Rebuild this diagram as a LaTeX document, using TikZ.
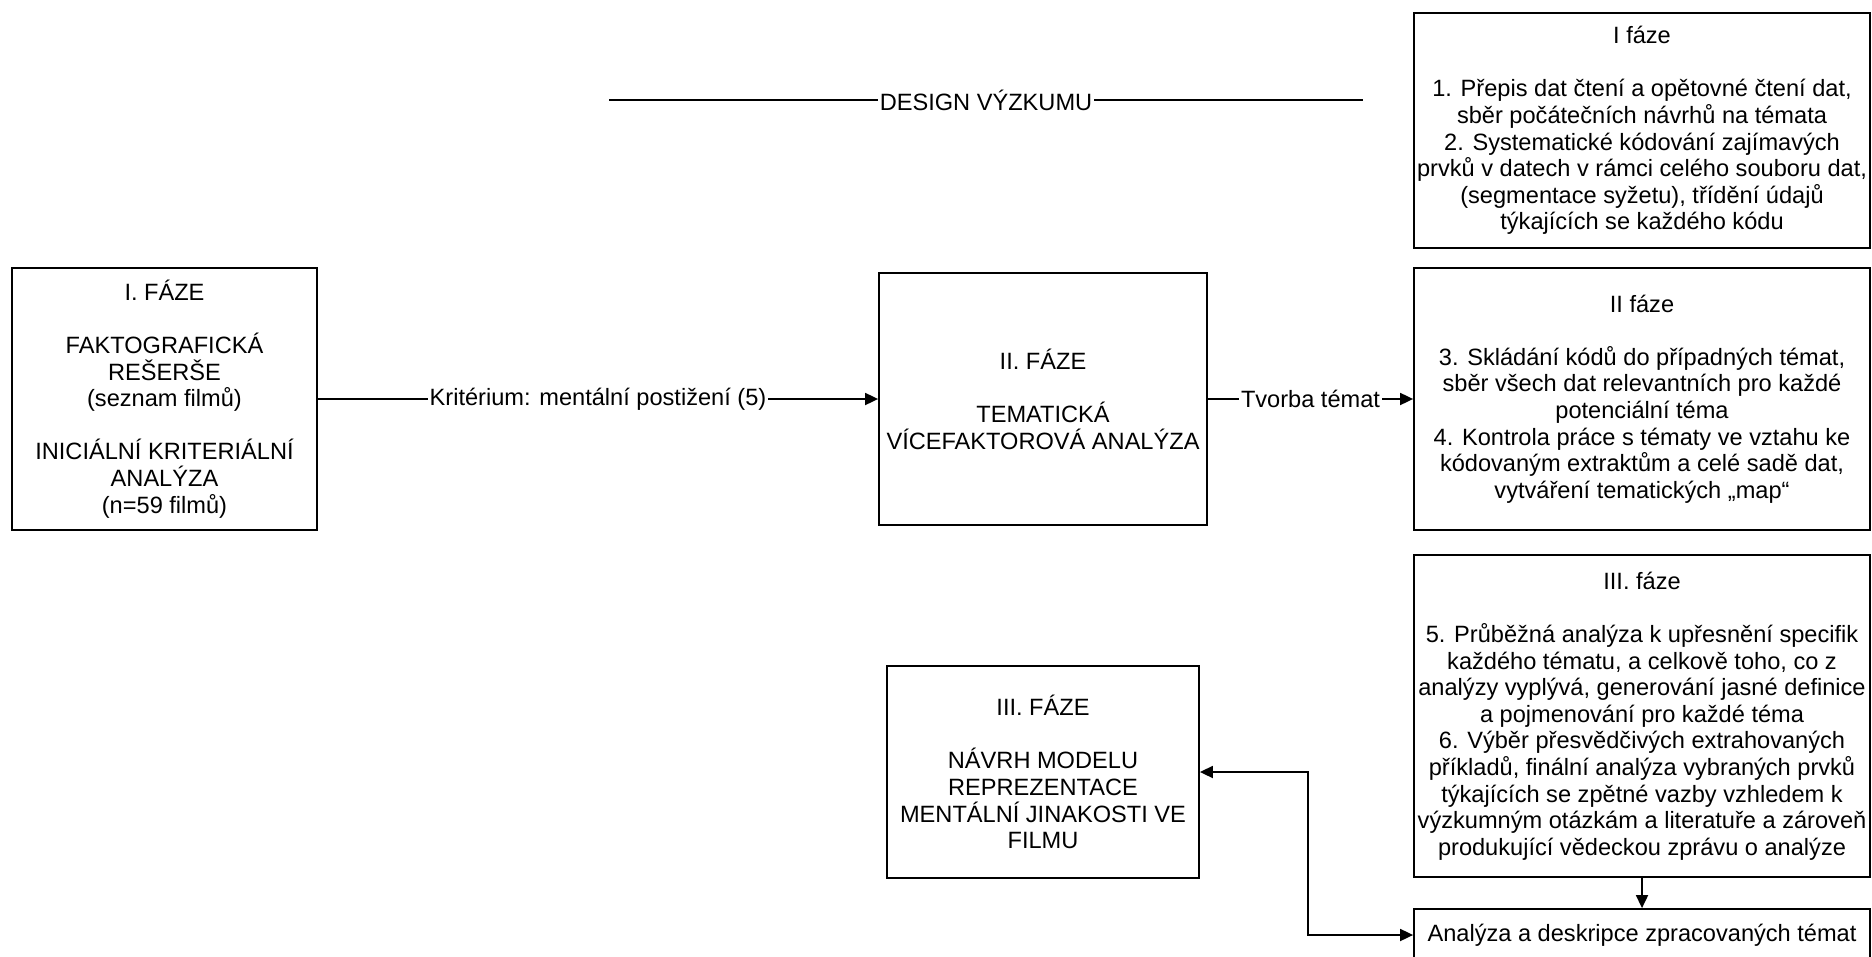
\documentclass[tikz,border=0pt]{standalone}
\usepackage{fontspec}
\setmainfont{Liberation Sans}
\usetikzlibrary{arrows.meta}

\begin{document}
\begin{tikzpicture}[x=0.5pt, y=-0.5pt,
        phasebox/.style={draw, line width=0.9pt, inner sep=0pt, align=center, font=\fontsize{11.8}{13.3}\selectfont},
        link/.style={line width=0.9pt, -{Triangle[length=6.5pt, width=6pt]}},
        twolink/.style={line width=0.9pt, {Triangle[length=6.5pt, width=6pt]}-{Triangle[length=6.5pt, width=6pt]}},
        linklabel/.style={fill=white, inner sep=1pt, font=\fontsize{11.8}{13.3}\selectfont}]
        \useasboundingbox (0,0) rectangle (1872,957);

        \node[phasebox, minimum width=152.5pt, minimum height=131pt] (faze1) at (164.5,399)
            {I. FÁZE\\[13.3pt] FAKTOGRAFICKÁ\\ REŠERŠE\\ (seznam filmů)\\[13.3pt] INICIÁLNÍ KRITERIÁLNÍ\\ ANALÝZA\\ (n=59 filmů)};
        \node[phasebox, minimum width=164pt, minimum height=126pt] (faze2) at (1043,399)
            {II. FÁZE\\[13.3pt] TEMATICKÁ\\ VÍCEFAKTOROVÁ ANALÝZA};
        \node[phasebox, minimum width=156pt, minimum height=106pt] (faze3) at (1043,772)
            {III. FÁZE\\[13.3pt] NÁVRH MODELU\\ REPREZENTACE\\ MENTÁLNÍ JINAKOSTI VE\\ FILMU};

        \node[phasebox, minimum width=228pt, minimum height=117.5pt] (ifaze) at (1642,130.5)
            {I fáze\\[13.3pt] 1. Přepis dat čtení a opětovné čtení dat,\\ sběr počátečních návrhů na témata\\ 2. Systematické kódování zajímavých\\ prvků v datech v rámci celého souboru dat,\\ (segmentace syžetu), třídění údajů\\ týkajících se každého kódu};
        \node[phasebox, minimum width=228pt, minimum height=131pt] (iifaze) at (1642,399)
            {II fáze\\[13.3pt] 3. Skládání kódů do případných témat,\\ sběr všech dat relevantních pro každé\\ potenciální téma\\ 4. Kontrola práce s tématy ve vztahu ke\\ kódovaným extraktům a celé sadě dat,\\ vytváření tematických „map“};
        \node[phasebox, minimum width=228pt, minimum height=161pt] (iiifaze) at (1642,716)
            {III. fáze\\[13.3pt] 5. Průběžná analýza k upřesnění specifik\\ každého tématu, a celkově toho, co z\\ analýzy vyplývá, generování jasné definice\\ a pojmenování pro každé téma\\ 6. Výběr přesvědčivých extrahovaných\\ příkladů, finální analýza vybraných prvků\\ týkajících se zpětné vazby vzhledem k\\ výzkumným otázkám a literatuře a zároveň\\ produkující vědeckou zprávu o analýze};
        \node[phasebox, minimum width=228pt, minimum height=26pt] (analyza) at (1642,935)
            {Analýza a deskripce zpracovaných témat};

        \coordinate (designL) at (609,100);
        \coordinate (designR) at (1363,100);
        \draw[line width=0.9pt] (designL) -- node[linklabel] {DESIGN VÝZKUMU} (designR);

        \draw[link] (faze1) -- node[linklabel] {Kritérium: mentální postižení (5)} (faze2);
        \draw[link] (faze2) -- node[linklabel] {Tvorba témat} (iifaze);
        \draw[link] (iiifaze) -- (analyza);
        \draw[twolink] (faze3.east) -- ++(108,0) |- (analyza.west);
    \end{tikzpicture}
\end{document}
